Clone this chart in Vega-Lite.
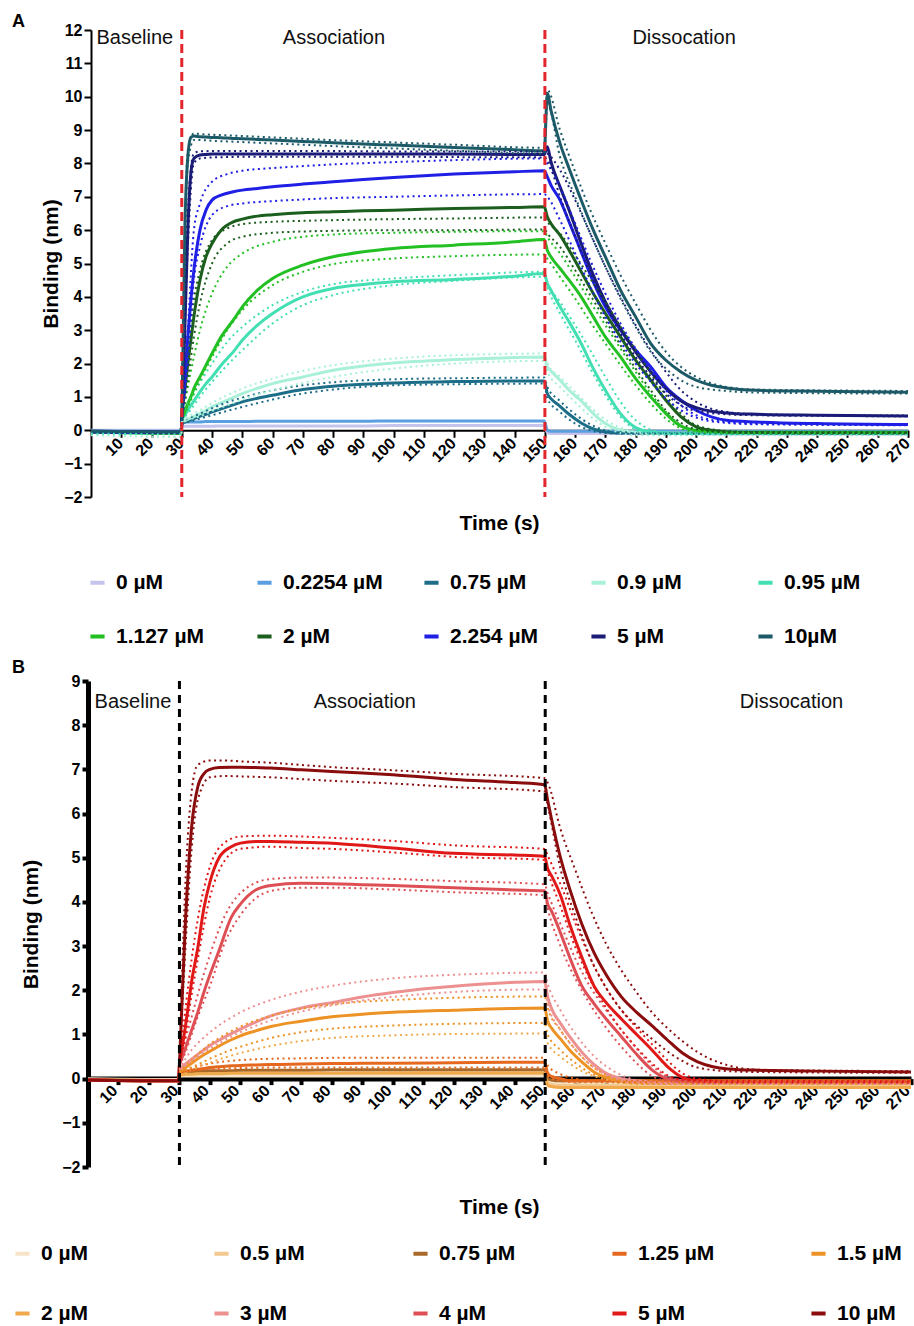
{
"$schema": "https://vega.github.io/schema/vega-lite/v6.json",
"usermeta": {"embedOptions": {"actions": false}},
"padding": {"left": 12, "top": 13, "right": 0, "bottom": 0},
"background": "white",
"bounds": "flush",
"center": true,
"spacing": 184,
"config": {"view": {"stroke": null}, "font": "Liberation Sans", "axis": {"grid": false, "labelOverlap": false}},
"resolve": {"scale": {"x": "independent", "y": "independent", "color": "independent"}, "legend": {"color": "independent"}},
"datasets": {
"labA": [{"key":"c0","label":"0 µM"},{"key":"c1","label":"0.2254 µM"},{"key":"c2","label":"0.75 µM"},{"key":"c3","label":"0.9 µM"},{"key":"c4","label":"0.95 µM"},{"key":"c5","label":"1.127 µM"},{"key":"c6","label":"2 µM"},{"key":"c7","label":"2.254 µM"},{"key":"c8","label":"5 µM"},{"key":"c9","label":"10µM"}],
"labB": [{"key":"c0","label":"0 µM"},{"key":"c1","label":"0.5 µM"},{"key":"c2","label":"0.75 µM"},{"key":"c3","label":"1.25 µM"},{"key":"c4","label":"1.5 µM"},{"key":"c5","label":"2 µM"},{"key":"c6","label":"3 µM"},{"key":"c7","label":"4 µM"},{"key":"c8","label":"5 µM"},{"key":"c9","label":"10 µM"}],
"A": [
{"k":"o","t":0,"c0":0,"c1":-0.02,"c2":-0.03,"c3":-0.05,"c4":-0.05,"c5":-0.05,"c6":-0.05,"c7":-0.05,"c8":-0.03,"c9":-0.03},
{"k":"o","t":29.8,"c0":0,"c1":-0.03,"c2":-0.06,"c3":-0.1,"c4":-0.09,"c5":-0.08,"c6":-0.08,"c7":-0.06,"c8":-0.05,"c9":-0.05},
{"k":"o","t":30,"c0":0.1,"c1":0.2,"c2":0.2,"c3":0.25,"c4":0.3,"c5":0.3,"c6":0.3,"c7":0.3,"c8":0.3,"c9":0.3},
{"k":"o","t":31,"c0":0.12,"c1":0.24,"c2":0.25,"c3":0.29,"c4":0.45,"c5":0.55,"c6":1.2,"c7":1.5,"c8":3.0,"c9":6.0},
{"k":"o","t":32,"c0":0.12,"c1":0.25,"c2":0.28,"c3":0.33,"c4":0.6,"c5":0.8,"c6":2.0,"c7":2.8,"c8":6.0,"c9":8.2},
{"k":"o","t":33,"c0":0.12,"c1":0.25,"c2":0.31,"c3":0.37,"c4":0.75,"c5":1.0,"c6":2.7,"c7":3.9,"c8":7.7,"c9":8.78},
{"k":"o","t":34,"c0":0.12,"c1":0.25,"c2":0.35,"c3":0.41,"c4":0.88,"c5":1.25,"c6":3.4,"c7":4.8,"c8":8.15,"c9":8.82},
{"k":"o","t":36,"c0":0.12,"c1":0.25,"c2":0.42,"c3":0.5,"c4":1.15,"c5":1.6,"c6":4.5,"c7":6.0,"c8":8.25,"c9":8.8},
{"k":"o","t":38,"c0":0.12,"c1":0.26,"c2":0.48,"c3":0.6,"c4":1.4,"c5":1.95,"c6":5.2,"c7":6.6,"c8":8.27,"c9":8.79},
{"k":"o","t":40,"c0":0.12,"c1":0.26,"c2":0.55,"c3":0.7,"c4":1.6,"c5":2.3,"c6":5.6,"c7":6.9,"c8":8.28,"c9":8.78},
{"k":"o","t":43,"c0":0.13,"c1":0.26,"c2":0.64,"c3":0.82,"c4":1.95,"c5":2.8,"c6":6.0,"c7":7.05,"c8":8.28,"c9":8.77},
{"k":"o","t":47,"c0":0.13,"c1":0.26,"c2":0.76,"c3":0.98,"c4":2.35,"c5":3.3,"c6":6.25,"c7":7.15,"c8":8.28,"c9":8.75},
{"k":"o","t":50,"c0":0.13,"c1":0.26,"c2":0.85,"c3":1.1,"c4":2.7,"c5":3.7,"c6":6.33,"c7":7.2,"c8":8.28,"c9":8.74},
{"k":"o","t":55,"c0":0.13,"c1":0.27,"c2":0.96,"c3":1.26,"c4":3.15,"c5":4.2,"c6":6.42,"c7":7.25,"c8":8.28,"c9":8.72},
{"k":"o","t":60,"c0":0.13,"c1":0.27,"c2":1.05,"c3":1.4,"c4":3.5,"c5":4.55,"c6":6.46,"c7":7.3,"c8":8.28,"c9":8.7},
{"k":"o","t":70,"c0":0.13,"c1":0.27,"c2":1.22,"c3":1.6,"c4":4.0,"c5":4.95,"c6":6.52,"c7":7.38,"c8":8.28,"c9":8.66},
{"k":"o","t":80,"c0":0.13,"c1":0.27,"c2":1.32,"c3":1.8,"c4":4.25,"c5":5.2,"c6":6.55,"c7":7.45,"c8":8.28,"c9":8.62},
{"k":"o","t":90,"c0":0.13,"c1":0.27,"c2":1.38,"c3":1.93,"c4":4.37,"c5":5.35,"c6":6.58,"c7":7.52,"c8":8.28,"c9":8.58},
{"k":"o","t":100,"c0":0.14,"c1":0.28,"c2":1.42,"c3":2.02,"c4":4.45,"c5":5.45,"c6":6.6,"c7":7.58,"c8":8.28,"c9":8.55},
{"k":"o","t":120,"c0":0.14,"c1":0.28,"c2":1.46,"c3":2.12,"c4":4.52,"c5":5.55,"c6":6.65,"c7":7.68,"c8":8.28,"c9":8.48},
{"k":"o","t":140,"c0":0.14,"c1":0.28,"c2":1.48,"c3":2.18,"c4":4.62,"c5":5.65,"c6":6.68,"c7":7.75,"c8":8.27,"c9":8.41},
{"k":"o","t":149.8,"c0":0.14,"c1":0.28,"c2":1.48,"c3":2.2,"c4":4.7,"c5":5.72,"c6":6.7,"c7":7.78,"c8":8.27,"c9":8.38},
{"k":"o","t":150.8,"c0":-0.06,"c1":0,"c2":1.1,"c3":1.9,"c4":4.4,"c5":5.4,"c6":6.4,"c7":7.6,"c8":8.5,"c9":10.1},
{"k":"o","t":152,"c0":-0.1,"c1":-0.03,"c2":0.95,"c3":1.78,"c4":4.2,"c5":5.2,"c6":6.2,"c7":7.35,"c8":8.05,"c9":9.6},
{"k":"o","t":155,"c0":-0.1,"c1":-0.03,"c2":0.72,"c3":1.5,"c4":3.7,"c5":4.85,"c6":5.85,"c7":6.9,"c8":7.3,"c9":8.6},
{"k":"o","t":158,"c0":-0.1,"c1":-0.03,"c2":0.48,"c3":1.2,"c4":3.25,"c5":4.5,"c6":5.4,"c7":6.25,"c8":6.6,"c9":7.85},
{"k":"o","t":162,"c0":-0.1,"c1":-0.03,"c2":0.22,"c3":0.88,"c4":2.6,"c5":4.0,"c6":4.75,"c7":5.35,"c8":5.6,"c9":6.9},
{"k":"o","t":166,"c0":-0.1,"c1":-0.03,"c2":0.04,"c3":0.5,"c4":1.85,"c5":3.4,"c6":4.1,"c7":4.45,"c8":4.65,"c9":6.0},
{"k":"o","t":170,"c0":-0.1,"c1":-0.03,"c2":-0.05,"c3":0.2,"c4":1.2,"c5":2.8,"c6":3.5,"c7":3.7,"c8":3.85,"c9":5.2},
{"k":"o","t":175,"c0":-0.1,"c1":-0.03,"c2":-0.08,"c3":0,"c4":0.5,"c5":2.2,"c6":2.8,"c7":3.0,"c8":3.05,"c9":4.2},
{"k":"o","t":180,"c0":-0.1,"c1":-0.03,"c2":-0.08,"c3":-0.06,"c4":0.08,"c5":1.55,"c6":2.1,"c7":2.4,"c8":2.35,"c9":3.4},
{"k":"o","t":185,"c0":-0.1,"c1":-0.03,"c2":-0.08,"c3":-0.08,"c4":-0.05,"c5":1.0,"c6":1.5,"c7":1.9,"c8":1.75,"c9":2.6},
{"k":"o","t":190,"c0":-0.1,"c1":-0.03,"c2":-0.08,"c3":-0.08,"c4":-0.08,"c5":0.5,"c6":0.9,"c7":1.3,"c8":1.25,"c9":2.1},
{"k":"o","t":195,"c0":-0.1,"c1":-0.03,"c2":-0.08,"c3":-0.08,"c4":-0.1,"c5":0.12,"c6":0.4,"c7":0.9,"c8":0.88,"c9":1.75},
{"k":"o","t":200,"c0":-0.1,"c1":-0.03,"c2":-0.08,"c3":-0.08,"c4":-0.1,"c5":0,"c6":0.1,"c7":0.6,"c8":0.68,"c9":1.5},
{"k":"o","t":205,"c0":-0.11,"c1":-0.03,"c2":-0.08,"c3":-0.08,"c4":-0.1,"c5":-0.04,"c6":0,"c7":0.4,"c8":0.57,"c9":1.35},
{"k":"o","t":210,"c0":-0.11,"c1":-0.03,"c2":-0.08,"c3":-0.08,"c4":-0.1,"c5":-0.06,"c6":-0.05,"c7":0.3,"c8":0.52,"c9":1.27},
{"k":"o","t":220,"c0":-0.11,"c1":-0.03,"c2":-0.08,"c3":-0.08,"c4":-0.1,"c5":-0.06,"c6":-0.07,"c7":0.25,"c8":0.48,"c9":1.2},
{"k":"o","t":240,"c0":-0.11,"c1":-0.03,"c2":-0.08,"c3":-0.08,"c4":-0.1,"c5":-0.06,"c6":-0.08,"c7":0.2,"c8":0.45,"c9":1.17},
{"k":"o","t":270,"c0":-0.11,"c1":-0.03,"c2":-0.08,"c3":-0.08,"c4":-0.1,"c5":-0.06,"c6":-0.08,"c7":0.17,"c8":0.43,"c9":1.14},
{"k":"hi","t":30,"c2":0.2,"c3":0.25,"c4":0.3,"c5":0.3,"c6":0.3,"c7":0.3,"c8":0.3,"c9":0.3},
{"k":"hi","t":32,"c2":0.32,"c3":0.4,"c4":0.75,"c5":1.3,"c6":2.4,"c7":3.0,"c8":6.5,"c9":8.4},
{"k":"hi","t":34,"c2":0.42,"c3":0.5,"c4":1.1,"c5":2.2,"c6":3.9,"c7":6.0,"c8":8.3,"c9":8.9},
{"k":"hi","t":36,"c2":0.5,"c3":0.6,"c4":1.42,"c5":3.0,"c6":4.8,"c7":6.8,"c8":8.36,"c9":8.88},
{"k":"hi","t":40,"c2":0.66,"c3":0.82,"c4":2.0,"c5":4.1,"c6":5.7,"c7":7.45,"c8":8.37,"c9":8.86},
{"k":"hi","t":45,"c2":0.84,"c3":1.05,"c4":2.65,"c5":4.9,"c6":6.05,"c7":7.68,"c8":8.37,"c9":8.84},
{"k":"hi","t":50,"c2":0.98,"c3":1.25,"c4":3.1,"c5":5.3,"c6":6.18,"c7":7.78,"c8":8.37,"c9":8.82},
{"k":"hi","t":60,"c2":1.2,"c3":1.55,"c4":3.75,"c5":5.65,"c6":6.25,"c7":7.86,"c8":8.37,"c9":8.78},
{"k":"hi","t":70,"c2":1.35,"c3":1.78,"c4":4.15,"c5":5.8,"c6":6.28,"c7":7.92,"c8":8.37,"c9":8.74},
{"k":"hi","t":80,"c2":1.44,"c3":1.95,"c4":4.38,"c5":5.87,"c6":6.3,"c7":7.97,"c8":8.37,"c9":8.7},
{"k":"hi","t":100,"c2":1.53,"c3":2.15,"c4":4.55,"c5":5.92,"c6":6.33,"c7":8.04,"c8":8.36,"c9":8.63},
{"k":"hi","t":120,"c2":1.56,"c3":2.25,"c4":4.65,"c5":5.95,"c6":6.35,"c7":8.1,"c8":8.36,"c9":8.56},
{"k":"hi","t":149.8,"c2":1.58,"c3":2.3,"c4":4.75,"c5":5.97,"c6":6.38,"c7":8.15,"c8":8.35,"c9":8.47},
{"k":"hi","t":150.8,"c2":1.3,"c3":2.0,"c4":4.45,"c5":5.8,"c6":6.25,"c7":8.0,"c8":8.3,"c9":10.2},
{"k":"hi","t":155,"c2":0.88,"c3":1.6,"c4":3.85,"c5":5.3,"c6":5.9,"c7":7.3,"c8":7.8,"c9":9.0},
{"k":"hi","t":160,"c2":0.48,"c3":1.15,"c4":3.15,"c5":4.6,"c6":5.25,"c7":6.2,"c8":6.9,"c9":7.75},
{"k":"hi","t":165,"c2":0.18,"c3":0.7,"c4":2.4,"c5":3.85,"c6":4.55,"c7":5.1,"c8":5.9,"c9":6.6},
{"k":"hi","t":170,"c2":0,"c3":0.32,"c4":1.6,"c5":3.15,"c6":3.85,"c7":4.1,"c8":4.9,"c9":5.6},
{"k":"hi","t":175,"c2":-0.05,"c3":0.08,"c4":0.85,"c5":2.45,"c6":3.1,"c7":3.2,"c8":4.0,"c9":4.65},
{"k":"hi","t":180,"c2":-0.08,"c3":-0.05,"c4":0.3,"c5":1.75,"c6":2.4,"c7":2.45,"c8":3.15,"c9":3.8},
{"k":"hi","t":185,"c2":-0.08,"c3":-0.1,"c4":0.02,"c5":1.1,"c6":1.7,"c7":1.8,"c8":2.4,"c9":3.0},
{"k":"hi","t":190,"c2":-0.08,"c3":-0.1,"c4":-0.08,"c5":0.55,"c6":1.05,"c7":1.2,"c8":1.75,"c9":2.35},
{"k":"hi","t":195,"c2":-0.08,"c3":-0.1,"c4":-0.1,"c5":0.15,"c6":0.5,"c7":0.75,"c8":1.2,"c9":1.9},
{"k":"hi","t":200,"c2":-0.08,"c3":-0.1,"c4":-0.1,"c5":0,"c6":0.15,"c7":0.45,"c8":0.85,"c9":1.6},
{"k":"hi","t":210,"c2":-0.08,"c3":-0.1,"c4":-0.1,"c5":-0.06,"c6":-0.02,"c7":0.25,"c8":0.55,"c9":1.3},
{"k":"hi","t":220,"c2":-0.08,"c3":-0.1,"c4":-0.1,"c5":-0.06,"c6":-0.05,"c7":0.2,"c8":0.48,"c9":1.22},
{"k":"hi","t":270,"c2":-0.08,"c3":-0.1,"c4":-0.1,"c5":-0.06,"c6":-0.06,"c7":0.17,"c8":0.44,"c9":1.18},
{"k":"lo","t":0,"c3":-0.15,"c4":-0.1},
{"k":"lo","t":29.8,"c3":-0.2,"c4":-0.12},
{"k":"lo","t":30,"c2":0.2,"c3":0.25,"c4":0.3,"c5":0.3,"c6":0.3,"c7":0.3,"c8":0.3,"c9":0.3},
{"k":"lo","t":32,"c2":0.25,"c3":0.3,"c4":0.5,"c5":0.7,"c6":1.5,"c7":2.0,"c8":5.5,"c9":8.0},
{"k":"lo","t":34,"c2":0.3,"c3":0.36,"c4":0.75,"c5":1.1,"c6":2.8,"c7":4.5,"c8":8.0,"c9":8.7},
{"k":"lo","t":36,"c2":0.35,"c3":0.42,"c4":1.0,"c5":1.5,"c6":3.8,"c7":5.5,"c8":8.15,"c9":8.7},
{"k":"lo","t":40,"c2":0.45,"c3":0.58,"c4":1.45,"c5":2.2,"c6":5.0,"c7":6.45,"c8":8.18,"c9":8.68},
{"k":"lo","t":45,"c2":0.58,"c3":0.75,"c4":1.95,"c5":3.0,"c6":5.6,"c7":6.72,"c8":8.19,"c9":8.66},
{"k":"lo","t":50,"c2":0.7,"c3":0.92,"c4":2.4,"c5":3.6,"c6":5.8,"c7":6.8,"c8":8.2,"c9":8.64},
{"k":"lo","t":60,"c2":0.92,"c3":1.2,"c4":3.2,"c5":4.35,"c6":5.92,"c7":6.87,"c8":8.2,"c9":8.6},
{"k":"lo","t":70,"c2":1.1,"c3":1.42,"c4":3.75,"c5":4.75,"c6":5.96,"c7":6.92,"c8":8.2,"c9":8.56},
{"k":"lo","t":80,"c2":1.22,"c3":1.6,"c4":4.05,"c5":4.98,"c6":5.98,"c7":6.96,"c8":8.2,"c9":8.52},
{"k":"lo","t":100,"c2":1.35,"c3":1.85,"c4":4.35,"c5":5.15,"c6":6.0,"c7":7.0,"c8":8.2,"c9":8.45},
{"k":"lo","t":120,"c2":1.38,"c3":2.0,"c4":4.48,"c5":5.22,"c6":6.0,"c7":7.04,"c8":8.19,"c9":8.38},
{"k":"lo","t":149.8,"c2":1.4,"c3":2.08,"c4":4.6,"c5":5.27,"c6":6.02,"c7":7.08,"c8":8.18,"c9":8.3},
{"k":"lo","t":150.8,"c2":0.95,"c3":1.75,"c4":4.3,"c5":5.15,"c6":5.9,"c7":7.0,"c8":8.1,"c9":9.8},
{"k":"lo","t":155,"c2":0.55,"c3":1.3,"c4":3.5,"c5":4.6,"c6":5.5,"c7":6.3,"c8":7.0,"c9":8.2},
{"k":"lo","t":160,"c2":0.2,"c3":0.85,"c4":2.7,"c5":3.95,"c6":4.8,"c7":5.3,"c8":5.8,"c9":7.0},
{"k":"lo","t":165,"c2":0,"c3":0.42,"c4":1.85,"c5":3.25,"c6":4.05,"c7":4.3,"c8":4.7,"c9":5.9},
{"k":"lo","t":170,"c2":-0.08,"c3":0.1,"c4":1.05,"c5":2.6,"c6":3.3,"c7":3.4,"c8":3.75,"c9":4.9},
{"k":"lo","t":175,"c2":-0.1,"c3":-0.08,"c4":0.4,"c5":1.95,"c6":2.55,"c7":2.65,"c8":2.9,"c9":3.95},
{"k":"lo","t":180,"c2":-0.1,"c3":-0.15,"c4":0.02,"c5":1.35,"c6":1.85,"c7":2.0,"c8":2.2,"c9":3.1},
{"k":"lo","t":185,"c2":-0.1,"c3":-0.15,"c4":-0.1,"c5":0.8,"c6":1.2,"c7":1.45,"c8":1.6,"c9":2.35},
{"k":"lo","t":190,"c2":-0.1,"c3":-0.15,"c4":-0.12,"c5":0.35,"c6":0.6,"c7":0.95,"c8":1.1,"c9":1.85},
{"k":"lo","t":195,"c2":-0.1,"c3":-0.15,"c4":-0.12,"c5":0.05,"c6":0.22,"c7":0.6,"c8":0.75,"c9":1.5},
{"k":"lo","t":200,"c2":-0.1,"c3":-0.15,"c4":-0.12,"c5":-0.05,"c6":0.03,"c7":0.38,"c8":0.58,"c9":1.3},
{"k":"lo","t":210,"c2":-0.1,"c3":-0.15,"c4":-0.12,"c5":-0.08,"c6":-0.06,"c7":0.22,"c8":0.48,"c9":1.18},
{"k":"lo","t":220,"c2":-0.1,"c3":-0.15,"c4":-0.12,"c5":-0.08,"c6":-0.08,"c7":0.18,"c8":0.45,"c9":1.13},
{"k":"lo","t":270,"c2":-0.1,"c3":-0.15,"c4":-0.12,"c5":-0.08,"c6":-0.08,"c7":0.15,"c8":0.42,"c9":1.1}
],
"B": [
{"k":"o","t":0,"c0":0,"c1":-0.02,"c2":-0.02,"c3":-0.03,"c4":-0.03,"c5":-0.03,"c6":-0.03,"c7":-0.03,"c8":-0.03,"c9":-0.03},
{"k":"o","t":29.8,"c0":-0.02,"c1":-0.04,"c2":-0.04,"c3":-0.05,"c4":-0.05,"c5":-0.05,"c6":-0.05,"c7":-0.05,"c8":-0.05,"c9":-0.05},
{"k":"o","t":30,"c0":0.05,"c1":0.1,"c2":0.12,"c3":0.15,"c4":0.15,"c5":0.08,"c6":0.2,"c7":0.3,"c8":0.3,"c9":0.3},
{"k":"o","t":31,"c0":0.06,"c1":0.11,"c2":0.14,"c3":0.16,"c4":0.2,"c5":0.09,"c6":0.27,"c7":0.5,"c8":0.75,"c9":2.0},
{"k":"o","t":32,"c0":0.06,"c1":0.12,"c2":0.15,"c3":0.17,"c4":0.25,"c5":0.1,"c6":0.33,"c7":0.7,"c8":1.2,"c9":3.6},
{"k":"o","t":33,"c0":0.06,"c1":0.12,"c2":0.16,"c3":0.18,"c4":0.3,"c5":0.1,"c6":0.39,"c7":0.9,"c8":1.7,"c9":4.8},
{"k":"o","t":34,"c0":0.06,"c1":0.12,"c2":0.16,"c3":0.19,"c4":0.35,"c5":0.1,"c6":0.44,"c7":1.1,"c8":2.2,"c9":5.7},
{"k":"o","t":36,"c0":0.06,"c1":0.12,"c2":0.17,"c3":0.21,"c4":0.45,"c5":0.11,"c6":0.55,"c7":1.5,"c8":2.95,"c9":6.6},
{"k":"o","t":38,"c0":0.06,"c1":0.12,"c2":0.17,"c3":0.23,"c4":0.54,"c5":0.11,"c6":0.65,"c7":1.95,"c8":3.85,"c9":6.9},
{"k":"o","t":40,"c0":0.06,"c1":0.12,"c2":0.18,"c3":0.25,"c4":0.62,"c5":0.11,"c6":0.75,"c7":2.35,"c8":4.45,"c9":7.0},
{"k":"o","t":43,"c0":0.06,"c1":0.13,"c2":0.18,"c3":0.27,"c4":0.74,"c5":0.11,"c6":0.87,"c7":2.9,"c8":5.0,"c9":7.04},
{"k":"o","t":47,"c0":0.06,"c1":0.13,"c2":0.18,"c3":0.29,"c4":0.88,"c5":0.12,"c6":1.02,"c7":3.65,"c8":5.25,"c9":7.05},
{"k":"o","t":50,"c0":0.06,"c1":0.13,"c2":0.19,"c3":0.3,"c4":0.97,"c5":0.12,"c6":1.12,"c7":3.95,"c8":5.33,"c9":7.05},
{"k":"o","t":55,"c0":0.06,"c1":0.13,"c2":0.19,"c3":0.31,"c4":1.08,"c5":0.12,"c6":1.28,"c7":4.27,"c8":5.37,"c9":7.04},
{"k":"o","t":60,"c0":0.06,"c1":0.13,"c2":0.19,"c3":0.32,"c4":1.18,"c5":0.12,"c6":1.42,"c7":4.37,"c8":5.37,"c9":7.03},
{"k":"o","t":70,"c0":0.06,"c1":0.13,"c2":0.19,"c3":0.33,"c4":1.3,"c5":0.12,"c6":1.6,"c7":4.42,"c8":5.35,"c9":6.99},
{"k":"o","t":80,"c0":0.06,"c1":0.13,"c2":0.2,"c3":0.34,"c4":1.4,"c5":0.12,"c6":1.72,"c7":4.41,"c8":5.33,"c9":6.95},
{"k":"o","t":90,"c0":0.06,"c1":0.14,"c2":0.2,"c3":0.35,"c4":1.46,"c5":0.12,"c6":1.85,"c7":4.39,"c8":5.28,"c9":6.92},
{"k":"o","t":100,"c0":0.06,"c1":0.14,"c2":0.2,"c3":0.35,"c4":1.5,"c5":0.12,"c6":1.95,"c7":4.37,"c8":5.22,"c9":6.88},
{"k":"o","t":120,"c0":0.06,"c1":0.14,"c2":0.2,"c3":0.36,"c4":1.55,"c5":0.12,"c6":2.09,"c7":4.32,"c8":5.1,"c9":6.77},
{"k":"o","t":140,"c0":0.06,"c1":0.14,"c2":0.2,"c3":0.37,"c4":1.59,"c5":0.12,"c6":2.18,"c7":4.27,"c8":5.06,"c9":6.7},
{"k":"o","t":149.8,"c0":0.06,"c1":0.14,"c2":0.2,"c3":0.37,"c4":1.6,"c5":0.12,"c6":2.2,"c7":4.25,"c8":5.03,"c9":6.65},
{"k":"o","t":150.8,"c0":-0.05,"c1":-0.1,"c2":0,"c3":0.12,"c4":1.3,"c5":-0.15,"c6":1.85,"c7":3.95,"c8":4.75,"c9":6.3},
{"k":"o","t":152,"c0":-0.08,"c1":-0.13,"c2":-0.03,"c3":0.05,"c4":1.15,"c5":-0.18,"c6":1.6,"c7":3.8,"c8":4.6,"c9":5.9},
{"k":"o","t":155,"c0":-0.08,"c1":-0.15,"c2":-0.05,"c3":0,"c4":0.9,"c5":-0.2,"c6":1.25,"c7":3.3,"c8":4.15,"c9":5.0},
{"k":"o","t":158,"c0":-0.08,"c1":-0.15,"c2":-0.05,"c3":-0.05,"c4":0.65,"c5":-0.2,"c6":0.95,"c7":2.75,"c8":3.5,"c9":4.3},
{"k":"o","t":162,"c0":-0.08,"c1":-0.15,"c2":-0.05,"c3":-0.05,"c4":0.38,"c5":-0.2,"c6":0.6,"c7":2.1,"c8":2.75,"c9":3.5},
{"k":"o","t":166,"c0":-0.08,"c1":-0.15,"c2":-0.05,"c3":-0.05,"c4":0.15,"c5":-0.2,"c6":0.32,"c7":1.7,"c8":2.1,"c9":2.85},
{"k":"o","t":170,"c0":-0.08,"c1":-0.15,"c2":-0.05,"c3":-0.05,"c4":0.03,"c5":-0.2,"c6":0.12,"c7":1.35,"c8":1.72,"c9":2.35},
{"k":"o","t":175,"c0":-0.08,"c1":-0.15,"c2":-0.05,"c3":-0.05,"c4":-0.05,"c5":-0.2,"c6":0,"c7":0.95,"c8":1.35,"c9":1.85},
{"k":"o","t":180,"c0":-0.08,"c1":-0.15,"c2":-0.05,"c3":-0.05,"c4":-0.08,"c5":-0.2,"c6":-0.05,"c7":0.55,"c8":1.0,"c9":1.5},
{"k":"o","t":185,"c0":-0.08,"c1":-0.15,"c2":-0.05,"c3":-0.05,"c4":-0.08,"c5":-0.2,"c6":-0.08,"c7":0.2,"c8":0.65,"c9":1.2},
{"k":"o","t":190,"c0":-0.08,"c1":-0.15,"c2":-0.05,"c3":-0.05,"c4":-0.08,"c5":-0.2,"c6":-0.1,"c7":0,"c8":0.28,"c9":0.88},
{"k":"o","t":195,"c0":-0.08,"c1":-0.15,"c2":-0.05,"c3":-0.05,"c4":-0.08,"c5":-0.2,"c6":-0.1,"c7":-0.05,"c8":0.03,"c9":0.58},
{"k":"o","t":200,"c0":-0.08,"c1":-0.15,"c2":-0.05,"c3":-0.05,"c4":-0.08,"c5":-0.2,"c6":-0.1,"c7":-0.07,"c8":-0.05,"c9":0.38},
{"k":"o","t":205,"c0":-0.08,"c1":-0.15,"c2":-0.05,"c3":-0.05,"c4":-0.08,"c5":-0.2,"c6":-0.1,"c7":-0.08,"c8":-0.07,"c9":0.27},
{"k":"o","t":210,"c0":-0.08,"c1":-0.15,"c2":-0.05,"c3":-0.05,"c4":-0.08,"c5":-0.2,"c6":-0.1,"c7":-0.08,"c8":-0.08,"c9":0.22},
{"k":"o","t":220,"c0":-0.08,"c1":-0.15,"c2":-0.05,"c3":-0.05,"c4":-0.08,"c5":-0.2,"c6":-0.1,"c7":-0.08,"c8":-0.08,"c9":0.19},
{"k":"o","t":240,"c0":-0.08,"c1":-0.15,"c2":-0.05,"c3":-0.05,"c4":-0.08,"c5":-0.2,"c6":-0.1,"c7":-0.08,"c8":-0.08,"c9":0.17},
{"k":"o","t":270,"c0":-0.08,"c1":-0.15,"c2":-0.05,"c3":-0.05,"c4":-0.08,"c5":-0.2,"c6":-0.1,"c7":-0.08,"c8":-0.08,"c9":0.15},
{"k":"hi","t":30,"c3":0.15,"c4":0.15,"c5":0.1,"c6":0.2,"c7":0.3,"c8":0.3,"c9":0.3},
{"k":"hi","t":32,"c3":0.2,"c4":0.3,"c5":0.15,"c6":0.45,"c7":0.9,"c8":1.6,"c9":4.5},
{"k":"hi","t":34,"c3":0.24,"c4":0.42,"c5":0.2,"c6":0.65,"c7":1.4,"c8":2.7,"c9":6.5},
{"k":"hi","t":36,"c3":0.28,"c4":0.55,"c5":0.26,"c6":0.8,"c7":1.9,"c8":3.6,"c9":7.1},
{"k":"hi","t":40,"c3":0.34,"c4":0.78,"c5":0.36,"c6":1.05,"c7":2.8,"c8":4.8,"c9":7.2},
{"k":"hi","t":45,"c3":0.39,"c4":1.0,"c5":0.48,"c6":1.3,"c7":3.7,"c8":5.35,"c9":7.2},
{"k":"hi","t":50,"c3":0.42,"c4":1.18,"c5":0.58,"c6":1.5,"c7":4.2,"c8":5.48,"c9":7.18},
{"k":"hi","t":60,"c3":0.45,"c4":1.42,"c5":0.74,"c6":1.78,"c7":4.52,"c8":5.5,"c9":7.15},
{"k":"hi","t":70,"c3":0.46,"c4":1.58,"c5":0.85,"c6":1.97,"c7":4.55,"c8":5.48,"c9":7.1},
{"k":"hi","t":80,"c3":0.47,"c4":1.68,"c5":0.92,"c6":2.1,"c7":4.55,"c8":5.45,"c9":7.05},
{"k":"hi","t":100,"c3":0.47,"c4":1.78,"c5":0.98,"c6":2.27,"c7":4.52,"c8":5.38,"c9":6.98},
{"k":"hi","t":120,"c3":0.47,"c4":1.83,"c5":1.01,"c6":2.35,"c7":4.47,"c8":5.28,"c9":6.9},
{"k":"hi","t":149.8,"c3":0.47,"c4":1.86,"c5":1.02,"c6":2.4,"c7":4.4,"c8":5.2,"c9":6.8},
{"k":"hi","t":150.8,"c3":0.3,"c4":1.6,"c5":0.8,"c6":2.15,"c7":4.2,"c8":5.05,"c9":6.7},
{"k":"hi","t":155,"c3":0.1,"c4":1.1,"c5":0.5,"c6":1.55,"c7":3.5,"c8":4.4,"c9":5.65},
{"k":"hi","t":160,"c3":0,"c4":0.65,"c5":0.25,"c6":1.0,"c7":2.7,"c8":3.5,"c9":4.7},
{"k":"hi","t":165,"c3":-0.05,"c4":0.3,"c5":0.08,"c6":0.58,"c7":2.05,"c8":2.7,"c9":3.8},
{"k":"hi","t":170,"c3":-0.05,"c4":0.08,"c5":-0.02,"c6":0.28,"c7":1.55,"c8":2.05,"c9":3.05},
{"k":"hi","t":175,"c3":-0.05,"c4":-0.05,"c5":-0.1,"c6":0.08,"c7":1.1,"c8":1.55,"c9":2.45},
{"k":"hi","t":180,"c3":-0.05,"c4":-0.1,"c5":-0.1,"c6":-0.04,"c7":0.68,"c8":1.15,"c9":1.95},
{"k":"hi","t":185,"c3":-0.05,"c4":-0.12,"c5":-0.1,"c6":-0.08,"c7":0.3,"c8":0.78,"c9":1.5},
{"k":"hi","t":190,"c3":-0.05,"c4":-0.12,"c5":-0.1,"c6":-0.1,"c7":0.05,"c8":0.42,"c9":1.15},
{"k":"hi","t":195,"c3":-0.05,"c4":-0.12,"c5":-0.1,"c6":-0.1,"c7":-0.04,"c8":0.12,"c9":0.85},
{"k":"hi","t":200,"c3":-0.05,"c4":-0.12,"c5":-0.1,"c6":-0.1,"c7":-0.06,"c8":0,"c9":0.6},
{"k":"hi","t":210,"c3":-0.05,"c4":-0.12,"c5":-0.1,"c6":-0.1,"c7":-0.08,"c8":-0.05,"c9":0.3},
{"k":"hi","t":220,"c3":-0.05,"c4":-0.12,"c5":-0.1,"c6":-0.1,"c7":-0.08,"c8":-0.05,"c9":0.2},
{"k":"hi","t":270,"c3":-0.05,"c4":-0.12,"c5":-0.1,"c6":-0.1,"c7":-0.08,"c8":-0.06,"c9":0.17},
{"k":"lo","t":30,"c3":0.15,"c4":0.15,"c6":0.2,"c7":0.3,"c8":0.3,"c9":0.3},
{"k":"lo","t":32,"c3":0.17,"c4":0.2,"c6":0.3,"c7":0.6,"c8":1.0,"c9":3.0},
{"k":"lo","t":34,"c3":0.19,"c4":0.26,"c6":0.4,"c7":1.0,"c8":1.9,"c9":5.2},
{"k":"lo","t":36,"c3":0.2,"c4":0.32,"c6":0.5,"c7":1.4,"c8":2.7,"c9":6.3},
{"k":"lo","t":40,"c3":0.22,"c4":0.45,"c6":0.68,"c7":2.1,"c8":4.1,"c9":6.82},
{"k":"lo","t":45,"c3":0.23,"c4":0.6,"c6":0.88,"c7":3.1,"c8":4.95,"c9":6.85},
{"k":"lo","t":50,"c3":0.24,"c4":0.72,"c6":1.05,"c7":3.7,"c8":5.2,"c9":6.84},
{"k":"lo","t":60,"c3":0.25,"c4":0.92,"c6":1.32,"c7":4.25,"c8":5.25,"c9":6.82},
{"k":"lo","t":70,"c3":0.25,"c4":1.05,"c6":1.52,"c7":4.32,"c8":5.22,"c9":6.78},
{"k":"lo","t":80,"c3":0.25,"c4":1.13,"c6":1.66,"c7":4.32,"c8":5.2,"c9":6.74},
{"k":"lo","t":100,"c3":0.25,"c4":1.2,"c6":1.85,"c7":4.28,"c8":5.12,"c9":6.68},
{"k":"lo","t":120,"c3":0.25,"c4":1.24,"c6":1.96,"c7":4.22,"c8":5.02,"c9":6.6},
{"k":"lo","t":149.8,"c3":0.25,"c4":1.26,"c6":2.02,"c7":4.15,"c8":4.95,"c9":6.5},
{"k":"lo","t":150.8,"c3":0.05,"c4":1.0,"c6":1.7,"c7":3.85,"c8":4.7,"c9":6.2},
{"k":"lo","t":155,"c3":-0.05,"c4":0.65,"c6":1.1,"c7":3.0,"c8":3.9,"c9":4.75},
{"k":"lo","t":160,"c3":-0.08,"c4":0.35,"c6":0.65,"c7":2.25,"c8":2.95,"c9":3.65},
{"k":"lo","t":165,"c3":-0.08,"c4":0.12,"c6":0.3,"c7":1.65,"c8":2.2,"c9":2.7},
{"k":"lo","t":170,"c3":-0.08,"c4":0,"c6":0.08,"c7":1.15,"c8":1.6,"c9":2.05},
{"k":"lo","t":175,"c3":-0.08,"c4":-0.08,"c6":-0.05,"c7":0.72,"c8":1.1,"c9":1.55},
{"k":"lo","t":180,"c3":-0.08,"c4":-0.12,"c6":-0.1,"c7":0.35,"c8":0.7,"c9":1.2},
{"k":"lo","t":185,"c3":-0.08,"c4":-0.12,"c6":-0.12,"c7":0.06,"c8":0.35,"c9":0.9},
{"k":"lo","t":190,"c3":-0.08,"c4":-0.12,"c6":-0.12,"c7":-0.05,"c8":0.08,"c9":0.62},
{"k":"lo","t":195,"c3":-0.08,"c4":-0.12,"c6":-0.12,"c7":-0.08,"c8":-0.03,"c9":0.4},
{"k":"lo","t":200,"c3":-0.08,"c4":-0.12,"c6":-0.12,"c7":-0.1,"c8":-0.06,"c9":0.25},
{"k":"lo","t":210,"c3":-0.08,"c4":-0.12,"c6":-0.12,"c7":-0.1,"c8":-0.08,"c9":0.17},
{"k":"lo","t":220,"c3":-0.08,"c4":-0.12,"c6":-0.12,"c7":-0.1,"c8":-0.08,"c9":0.15},
{"k":"lo","t":270,"c3":-0.08,"c4":-0.12,"c6":-0.12,"c7":-0.1,"c8":-0.08,"c9":0.13}
]
},
"vconcat": [
{
"width": 817, "height": 467,
"title": {"text": "A", "anchor": "start", "frame": "group", "dx": -79, "offset": -23, "baseline": "alphabetic", "fontSize": 18, "fontWeight": "bold", "font": "Liberation Sans", "color": "#000"},
"layer": [
{
"data": {"name": "A"},
"transform": [{"filter": "datum.k == 'o'"}, {"fold": ["c0","c1","c2","c3","c4","c5","c6","c7","c8","c9"], "as": ["key","v"]}, {"filter": "isValid(datum.v)"}, {"lookup": "key", "from": {"data": {"name": "labA"}, "key": "key", "fields": ["label"]}}],
"mark": {"type": "line", "strokeWidth": 3, "interpolate": "monotone"},
"encoding": {
"x": {"field": "t", "type": "quantitative", "scale": {"domain": [0, 270], "nice": false, "zero": false},
"axis": {"values": [10,20,30,40,50,60,70,80,90,100,110,120,130,140,150,160,170,180,190,200,210,220,230,240,250,260,270], "tickCount": 100, "format": "d", "offset": -66.7, "labelAngle": -45, "labelAlign": "right", "labelBaseline": "middle", "labelPadding": 3, "labelOffset": -1, "labelFontSize": 16, "labelFontWeight": "bold", "labelColor": "#000", "labelFlush": false, "labelOverlap": false, "tickSize": 7, "tickWidth": 2, "tickColor": "#000", "domainColor": "#000", "domainWidth": 2, "grid": false, "title": "Time (s)", "titleFontSize": 21, "titleFontWeight": "bold", "titleColor": "#000", "titleX": 408, "titleY": 93, "titleBaseline": "middle"}},
"y": {"field": "v", "type": "quantitative", "scale": {"domain": [-2, 12], "nice": false, "zero": false},
"axis": {"values": [-2,-1,0,1,2,3,4,5,6,7,8,9,10,11,12], "tickCount": 100, "format": "d", "labelFontSize": 16, "labelFontWeight": "bold", "labelColor": "#000", "labelPadding": 2, "labelOverlap": false, "tickSize": 7, "tickWidth": 2, "tickColor": "#000", "domainColor": "#000", "domainWidth": 2, "grid": false, "title": "Binding (nm)", "titleFontSize": 21, "titleFontWeight": "bold", "titleColor": "#000", "titleX": -40, "titleY": 233.5, "titleBaseline": "middle"}},
"color": {"field": "label", "type": "nominal",
"scale": {"domain": ["0 µM","0.2254 µM","0.75 µM","0.9 µM","0.95 µM","1.127 µM","2 µM","2.254 µM","5 µM","10µM"], "range": ["#c5c3ec","#5aa0e0","#1c6d87","#a9f0d9","#42dfb2","#22c022","#1b5e1e","#1f1fe6","#1b1b78","#1d5a68"]},
"legend": {"orient": "none", "legendX": -4, "legendY": 542, "direction": "horizontal", "columns": 5, "title": null, "symbolType": "stroke", "symbolStrokeWidth": 4, "symbolSize": 200, "symbolDash": [], "labelFontSize": 21, "labelFontWeight": "bold", "labelColor": "#000", "labelOffset": 8, "rowPadding": 32, "columnPadding": 33, "gridAlign": "all", "padding": 0, "labelLimit": 300}}
}
},
{
"data": {"name": "A"},
"transform": [{"filter": "datum.k != 'o'"}, {"fold": ["c0","c1","c2","c3","c4","c5","c6","c7","c8","c9"], "as": ["key","v"]}, {"filter": "isValid(datum.v)"}, {"lookup": "key", "from": {"data": {"name": "labA"}, "key": "key", "fields": ["label"]}}],
"mark": {"type": "line", "strokeWidth": 2, "strokeDash": [2, 3.5], "interpolate": "monotone"},
"encoding": {
"x": {"field": "t", "type": "quantitative"},
"y": {"field": "v", "type": "quantitative"},
"color": {"field": "label", "type": "nominal"},
"detail": {"field": "k"}
}
},
{
"data": {"values": [{"t": 30}, {"t": 150}]},
"mark": {"type": "rule", "color": "#e3262b", "strokeWidth": 3, "strokeDash": [9, 5]},
"encoding": {"x": {"field": "t", "type": "quantitative"}}
},
{
"data": {"values": [{"t": 14.5, "v": 11.75, "txt": "Baseline"}, {"t": 80.3, "v": 11.75, "txt": "Association"}, {"t": 196, "v": 11.75, "txt": "Dissocation"}]},
"mark": {"type": "text", "fontSize": 20, "font": "Liberation Sans", "color": "#111", "align": "center", "baseline": "middle"},
"encoding": {"x": {"field": "t", "type": "quantitative"}, "y": {"field": "v", "type": "quantitative"}, "text": {"field": "txt"}}
}
]
},
{
"width": 823, "height": 486,
"title": {"text": "B", "anchor": "start", "frame": "group", "dx": -76, "offset": -18, "baseline": "alphabetic", "fontSize": 18, "fontWeight": "bold", "font": "Liberation Sans", "color": "#000"},
"layer": [
{
"data": {"name": "B"},
"transform": [{"filter": "datum.k == 'o'"}, {"fold": ["c0","c1","c2","c3","c4","c5","c6","c7","c8","c9"], "as": ["key","v"]}, {"filter": "isValid(datum.v)"}, {"lookup": "key", "from": {"data": {"name": "labB"}, "key": "key", "fields": ["label"]}}],
"mark": {"type": "line", "strokeWidth": 3, "interpolate": "monotone"},
"encoding": {
"x": {"field": "t", "type": "quantitative", "scale": {"domain": [0, 270], "nice": false, "zero": false},
"axis": {"values": [10,20,30,40,50,60,70,80,90,100,110,120,130,140,150,160,170,180,190,200,210,220,230,240,250,260,270], "tickCount": 100, "format": "d", "offset": -88.4, "labelAngle": -45, "labelAlign": "right", "labelBaseline": "middle", "labelPadding": 3, "labelOffset": -4, "labelFontSize": 16, "labelFontWeight": "bold", "labelColor": "#000", "labelFlush": false, "labelOverlap": false, "tickSize": 6, "tickWidth": 4, "tickColor": "#000", "domainColor": "#000", "domainWidth": 5, "grid": false, "title": "Time (s)", "titleFontSize": 21, "titleFontWeight": "bold", "titleColor": "#000", "titleX": 411, "titleY": 129, "titleBaseline": "middle"}},
"y": {"field": "v", "type": "quantitative", "scale": {"domain": [-2, 9], "nice": false, "zero": false},
"axis": {"values": [-2,-1,0,1,2,3,4,5,6,7,8,9], "tickCount": 100, "format": "d", "labelFontSize": 16, "labelFontWeight": "bold", "labelColor": "#000", "labelPadding": 2, "labelOverlap": false, "tickSize": 6, "tickWidth": 4, "tickColor": "#000", "domainColor": "#000", "domainWidth": 5, "grid": false, "title": "Binding (nm)", "titleFontSize": 21, "titleFontWeight": "bold", "titleColor": "#000", "titleX": -57, "titleY": 243, "titleBaseline": "middle"}},
"color": {"field": "label", "type": "nominal",
"scale": {"domain": ["0 µM","0.5 µM","0.75 µM","1.25 µM","1.5 µM","2 µM","3 µM","4 µM","5 µM","10 µM"], "range": ["#f6e3c8","#f3c98f","#a8682a","#e5681e","#ed9225","#f0aa4c","#ec9090","#de4f55","#e01818","#8a0c0c"]},
"legend": {"orient": "none", "legendX": -76, "legendY": 562, "direction": "horizontal", "columns": 5, "title": null, "symbolType": "stroke", "symbolStrokeWidth": 4, "symbolSize": 200, "symbolDash": [], "labelFontSize": 21, "labelFontWeight": "bold", "labelColor": "#000", "labelOffset": 8, "rowPadding": 38, "columnPadding": 88, "gridAlign": "all", "padding": 0, "labelLimit": 300}}
}
},
{
"data": {"name": "B"},
"transform": [{"filter": "datum.k != 'o'"}, {"fold": ["c0","c1","c2","c3","c4","c5","c6","c7","c8","c9"], "as": ["key","v"]}, {"filter": "isValid(datum.v)"}, {"lookup": "key", "from": {"data": {"name": "labB"}, "key": "key", "fields": ["label"]}}],
"mark": {"type": "line", "strokeWidth": 2, "strokeDash": [2, 3.5], "interpolate": "monotone"},
"encoding": {
"x": {"field": "t", "type": "quantitative"},
"y": {"field": "v", "type": "quantitative"},
"color": {"field": "label", "type": "nominal"},
"detail": {"field": "k"}
}
},
{
"data": {"values": [{"t": 30}, {"t": 150}]},
"mark": {"type": "rule", "color": "#000", "strokeWidth": 3, "strokeDash": [8, 6]},
"encoding": {"x": {"field": "t", "type": "quantitative"}}
},
{
"data": {"values": [{"t": 14.75, "v": 8.53, "txt": "Baseline"}, {"t": 90.8, "v": 8.53, "txt": "Association"}, {"t": 230.8, "v": 8.53, "txt": "Dissocation"}]},
"mark": {"type": "text", "fontSize": 20, "font": "Liberation Sans", "color": "#111", "align": "center", "baseline": "middle"},
"encoding": {"x": {"field": "t", "type": "quantitative"}, "y": {"field": "v", "type": "quantitative"}, "text": {"field": "txt"}}
}
]
}
]
}
